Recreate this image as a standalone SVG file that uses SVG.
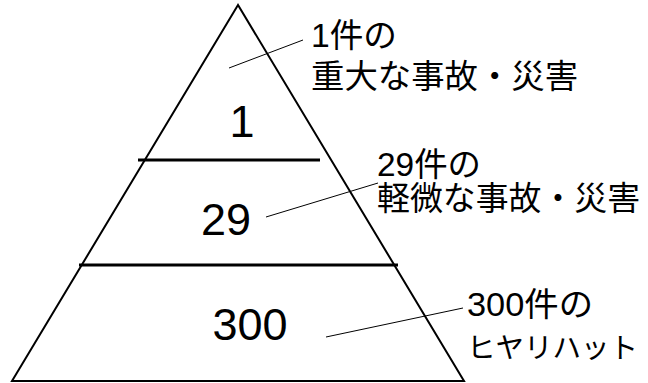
<svg xmlns="http://www.w3.org/2000/svg" width="648" height="383" viewBox="0 0 648 383">
<style>
.edge{fill:none;stroke:#000;stroke-width:2}
.band{stroke:#000;stroke-width:3}
.lead{stroke:#000;stroke-width:1}
text{font-family:"Liberation Sans","Noto Sans CJK JP",sans-serif;fill:#000}
.num{font-size:45px;text-anchor:middle}
.lab{font-size:33px}
.kana{font-size:28.5px}
</style>
<rect width="648" height="383" fill="#fff"/>
<g id="pyramid">
<polygon class="edge" points="238,5 12,381 464,381"/>
<line class="band" x1="138" y1="160" x2="320" y2="160"/>
<line class="band" x1="79" y1="265" x2="398" y2="265"/>
</g>
<g id="tier1">
<text class="num" x="242" y="137">1</text>
</g>
<g id="tier2">
<text class="num" x="226" y="235">29</text>
</g>
<g id="tier3">
<text class="num" x="250" y="340">300</text>
</g>
<g id="connectors">
<line class="lead" x1="229" y1="68" x2="303" y2="40"/>
<line class="lead" x1="266" y1="217" x2="378" y2="183"/>
<line class="lead" x1="326" y1="337" x2="463" y2="308"/>
</g>
<g id="label1">
<text class="lab" x="311" y="47" textLength="86" lengthAdjust="spacingAndGlyphs">1件の</text>
<text class="lab" x="311" y="88" textLength="267" lengthAdjust="spacingAndGlyphs">重大な事故・災害</text>
</g>
<g id="label2">
<text class="lab" x="377" y="176" textLength="104" lengthAdjust="spacingAndGlyphs">29件の</text>
<text class="lab" x="377" y="210" textLength="263" lengthAdjust="spacingAndGlyphs">軽微な事故・災害</text>
</g>
<g id="label3">
<text class="lab" x="467" y="316" textLength="126" lengthAdjust="spacingAndGlyphs">300件の</text>
<text class="kana" x="467" y="358">ヒヤリハット</text>
</g>
</svg>
